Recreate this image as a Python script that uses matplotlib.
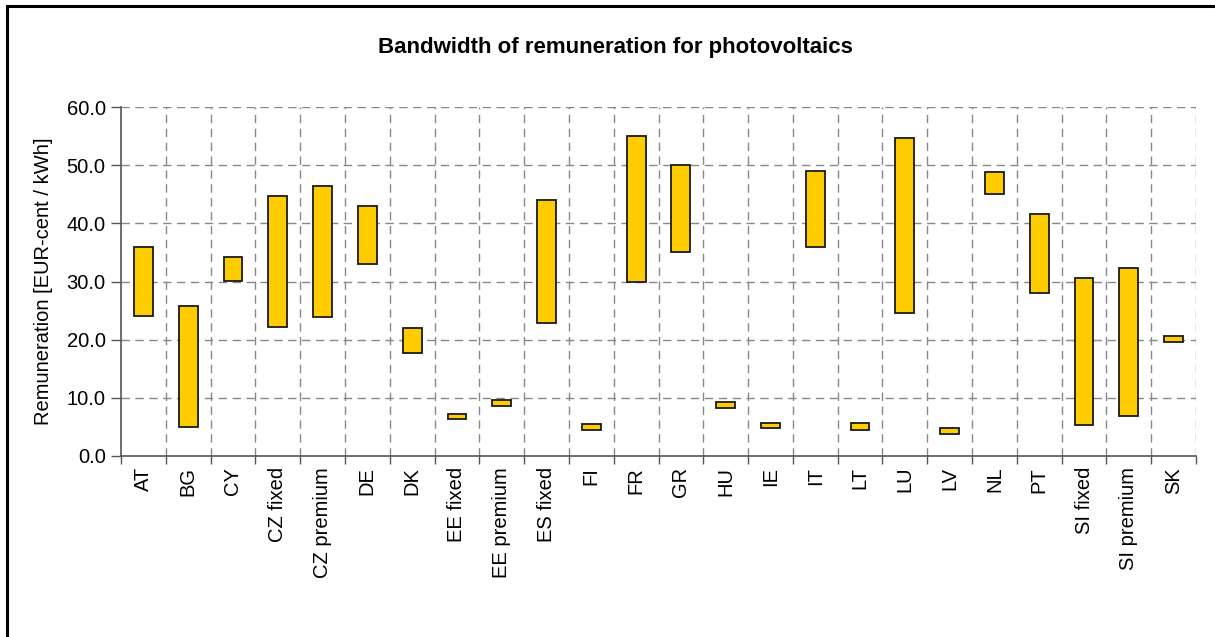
import matplotlib
matplotlib.use("Agg")
import matplotlib.pyplot as plt
from matplotlib.patches import Rectangle

categories = ["AT", "BG", "CY", "CZ fixed", "CZ premium", "DE", "DK", "EE fixed",
              "EE premium", "ES fixed", "FI", "FR", "GR", "HU", "IE", "IT", "LT",
              "LU", "LV", "NL", "PT", "SI fixed", "SI premium", "SK"]
low_values = [24.0, 5.0, 30.1, 22.2, 23.9, 33.0, 17.7, 6.3,
              8.6, 22.9, 4.4, 30.0, 35.0, 8.3, 4.8, 36.0, 4.5,
              24.5, 3.7, 45.1, 28.0, 5.3, 6.9, 19.5]
high_values = [36.0, 25.7, 34.2, 44.7, 46.4, 43.0, 22.0, 7.2,
               9.6, 44.1, 5.4, 55.0, 50.0, 9.3, 5.7, 49.0, 5.6,
               54.7, 4.7, 48.9, 41.7, 30.6, 32.3, 20.6]
y_ticks = [0, 10, 20, 30, 40, 50, 60]

plt.rcParams['font.family'] = ['Liberation Sans', 'DejaVu Sans']

W, H = 1215, 637
fig = plt.figure(figsize=(W / 100, H / 100), dpi=100)
ax = fig.add_axes([121 / W, 1 - 455.7 / H, (1196 - 121) / W, (455.7 - 107.3) / H])

n = len(categories)
x = list(range(n))
heights = [h - l for h, l in zip(high_values, low_values)]
ax.bar(x, heights, bottom=low_values, width=0.42, color="#FFCC00",
       edgecolor="#1a1a1a", linewidth=1.3, zorder=3)

ax.set_xlim(-0.5, n - 0.5)
ax.set_ylim(0, 60)
ax.set_yticks(y_ticks)
ax.set_yticklabels([f"{v:.1f}" for v in y_ticks], fontsize=14.5)

# category labels centered, ticks at boundaries
ax.set_xticks(x)
ax.set_xticklabels(categories, rotation=90, fontsize=14.5)
ax.tick_params(axis='x', which='major', length=0, pad=8)
ax.set_xticks([i - 0.5 for i in range(n + 1)], minor=True)
ax.tick_params(axis='x', which='minor', length=6, width=1, color="#555555", direction='out')
ax.tick_params(axis='y', length=7, width=1, color="#555555", direction='out', pad=4)

# grid
for yv in y_ticks[1:]:
    ax.axhline(yv, color="#888888", linestyle=(0, (6, 4)), linewidth=1.0, zorder=1)
for i in range(1, n + 1):
    ax.axvline(i - 0.5, color="#888888", linestyle=(0, (6, 4)), linewidth=1.0, zorder=1)

for s in ['top', 'right']:
    ax.spines[s].set_visible(False)
for s in ['left', 'bottom']:
    ax.spines[s].set_color("#555555")
    ax.spines[s].set_linewidth(1.2)

ax.set_ylabel("Remuneration [EUR-cent / kWh]", fontsize=14.5, labelpad=10)

fig.text(615 / W, 1 - 47 / H, "Bandwidth of remuneration for photovoltaics",
         ha='center', va='center', fontsize=16, fontweight='bold')

# outer frame (partly cut off at right and bottom)
fig.patches.append(Rectangle((6.5 / W, -0.05), 1.1, 1 - 6 / H + 0.05,
                             transform=fig.transFigure, fill=False,
                             edgecolor='black', linewidth=2.2))

fig.savefig("out.png", dpi=100, facecolor='white')
